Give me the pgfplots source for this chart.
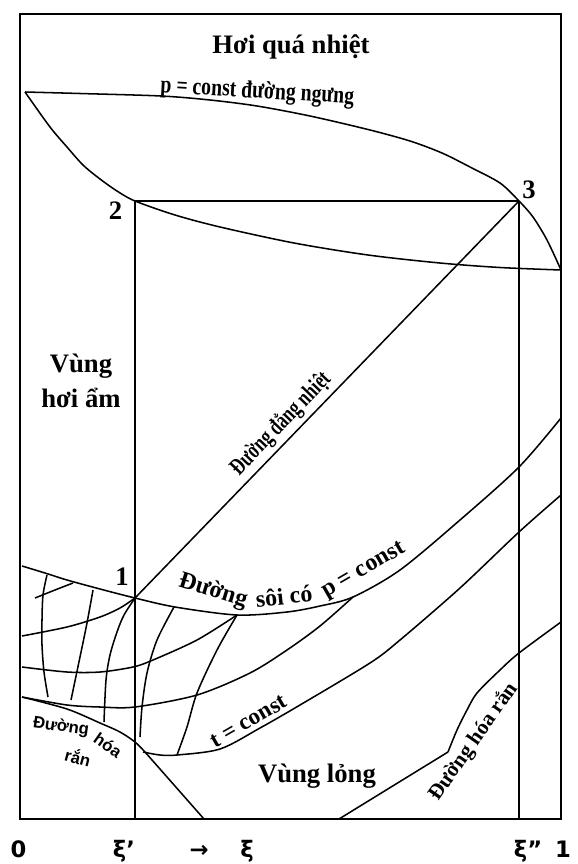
\documentclass[border=0pt]{standalone}
\usepackage{fontspec}
\setmainfont{Liberation Serif}
\newfontfamily\sansfont{Liberation Sans}
\newfontfamily\tickfont{DejaVu Sans}
\usepackage{graphicx}
\usepackage{pgfplots}
\pgfplotsset{compat=1.18}

\newcommand{\fs}[1]{\fontsize{#1}{#1}\selectfont}

\tikzset{
  curve/.style={black, line width=1.15pt, no markers, smooth},
  seg/.style={black, line width=1.15pt, no markers, sharp plot},
  lbl/.style={font=\fs{20pt}\bfseries, inner sep=0pt},
  tck/.style={font=\tickfont\fs{17pt}\bfseries, inner sep=0pt, anchor=base},
  boil/.style={font=\fs{18pt}\bfseries, inner sep=0pt},
  solid/.style={font=\sansfont\fs{12.5pt}\bfseries, inner sep=0pt},
}

\begin{document}
\begin{tikzpicture}
\begin{axis}[
  scale only axis,
  width=405.75pt, height=603.75pt,
  xmin=20, xmax=561, ymin=14, ymax=819,
  y dir=reverse,
  xtick=\empty, ytick=\empty,
  axis line style={line width=1.4pt},
  clip=false,
]
% page frame
\path (axis cs:0,0) rectangle (axis cs:578,864);

% saturation dome: upper branch through point 3
\addplot[curve] coordinates {(25,92) (80,93.5) (161,96) (210,100) (257,106) (310,116) (368,129.5) (410,141) (442,153) (470,167) (500,183) (519,201) (533,217) (547,240) (561,270)};
% lower branch through point 2
\addplot[curve] coordinates {(25,92) (50,127) (67,147) (83,165) (100,179) (117,191) (135,201) (175,215) (220,227) (294,243) (368,255) (440,263) (500,267.5) (561,270)};

% 2-3 and the two verticals
\addplot[seg] coordinates {(135,201) (519,201)};
\addplot[seg] coordinates {(135,201) (135,819)};
\addplot[seg] coordinates {(519,201) (519,819)};
% isotherm 1-3
\addplot[seg] coordinates {(135,598) (519,201)};

% boiling curve
\addplot[curve] coordinates {(22,566) (45,573) (67,580) (100,589) (135,598) (175,607) (237,615) (287,612) (320,606) (353,597) (400,570) (460,520) (519,467) (561,418)};
% lower isobars
\addplot[curve] coordinates {(22,636) (67,627) (100,617) (120,608) (135,598)};
\addplot[curve] coordinates {(22,667) (67,672) (100,672) (133,667) (153,660) (197,640) (237,615)};
\addplot[curve] coordinates {(22,697) (67,705) (100,707) (135,707) (197,695) (250,673) (287,650) (320,626) (353,597)};
% t = const
\addplot[curve] coordinates {(143,752) (160,755) (177,755) (220,749) (260,728) (300,705) (370,663) (400,640) (460,588) (519,532) (561,495)};

% solidification, left
\addplot[curve] coordinates {(22,697) (67,709) (100,723) (120,732) (135,742) (145,752)};
\addplot[seg] coordinates {(145,752) (204,819)};
% solidification, right
\addplot[seg] coordinates {(339,819) (448,752)};
\addplot[curve] coordinates {(448,752) (457,730) (467,710) (477,693) (500,670) (519,653) (561,622)};

% grid lines in the lower left
\addplot[curve] coordinates {(47,575) (43,595) (42,620) (42,645) (44,672) (48,697)};
\addplot[curve] coordinates {(35,598) (55,590) (73,583)};
\addplot[curve] coordinates {(93,590) (87,623) (80,657) (71,700)};
\addplot[curve] coordinates {(135,598) (124,615) (117,632) (110,655) (106,680) (104,722)};
\addplot[curve] coordinates {(174,607) (157,640) (147,673) (142,707) (140,737)};
\addplot[curve] coordinates {(237,615) (217,650) (197,693) (187,727) (177,755)};

% region names
\node[lbl, anchor=base] at (axis cs:291,53) {Hơi quá nhiệt};
\node[lbl, anchor=base] at (axis cs:81,372) {Vùng};
\node[lbl, anchor=base] at (axis cs:81,407) {hơi ẩm};
\node[lbl, anchor=base] at (axis cs:317,782) {Vùng lỏng};

% state points
\node[lbl, anchor=base] at (axis cs:115.5,219) {2};
\node[lbl, anchor=base] at (axis cs:529,198) {3};
\node[lbl, anchor=base] at (axis cs:122,585) {1};

% curve names
\node[inner sep=0pt, anchor=base, rotate=-3.5] at (axis cs:257,98)
  {\scalebox{0.8}[1]{\fs{18.5pt}\bfseries p = const đường ngưng}};
\node[inner sep=0pt, rotate=46] at (axis cs:281,424)
  {\scalebox{0.72}[1]{\fs{18pt}\bfseries Đường đẳng nhiệt}};
\node[boil, rotate=-17] at (axis cs:213,591) {Đường};
\node[boil, rotate=6] at (axis cs:284,596) {sôi có};
\node[boil, rotate=30] at (axis cs:364,571) {p = const};
\node[inner sep=0pt, anchor=base, rotate=30] at (axis cs:252,727)
  {\fs{17.5pt}\bfseries t = const};
\node[inner sep=0pt, rotate=55] at (axis cs:474,742)
  {\fs{16pt}\bfseries Đường hóa rắn};
\node[solid, rotate=-8] at (axis cs:61,727) {Đường};
\node[solid, rotate=-35] at (axis cs:108,745) {hóa};
\node[solid, rotate=-15] at (axis cs:78,757) {rắn};

% composition axis
\node[tck] at (axis cs:18.5,857) {0};
\node[tck] at (axis cs:124,857) {ξ’};
\node[tck] at (axis cs:199,857) {→};
\node[tck] at (axis cs:247,857) {ξ};
\node[tck] at (axis cs:528,857) {ξ”};
\node[tck] at (axis cs:563,857) {1};
\end{axis}
\end{tikzpicture}
\end{document}
